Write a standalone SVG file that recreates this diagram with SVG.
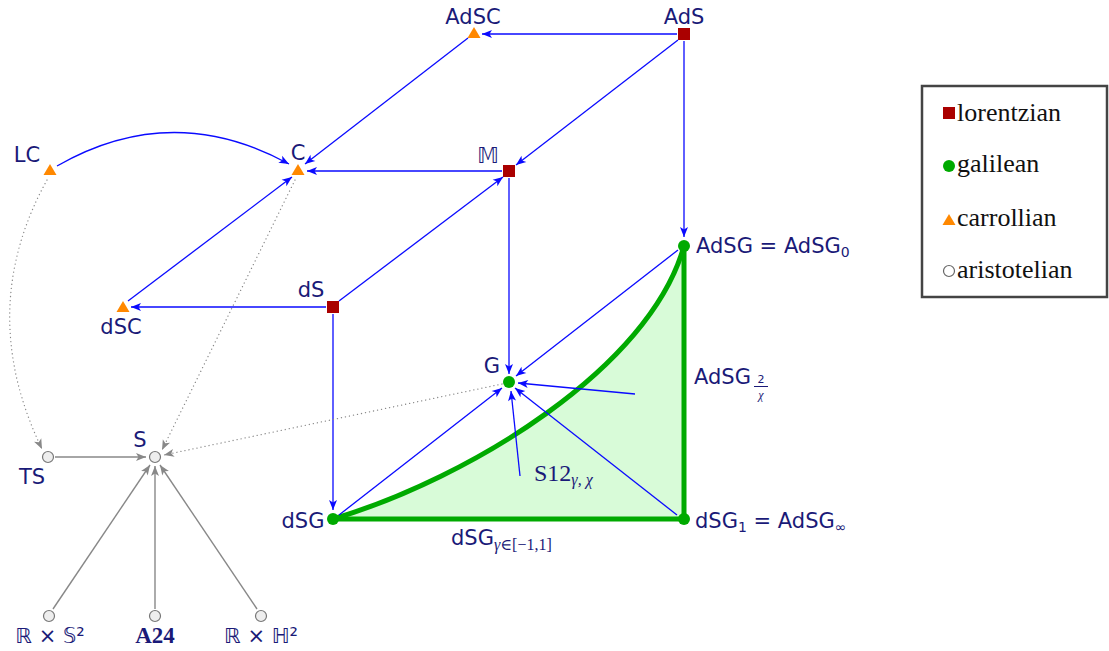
<svg xmlns="http://www.w3.org/2000/svg" width="1109" height="651" viewBox="0 0 1109 651">
<style>
.lbl{font-family:"DejaVu Sans","Liberation Sans",sans-serif;font-size:21px;fill:#1a1a78}
.sub{font-size:14px}
.ser{font-family:"Liberation Serif","DejaVu Serif",serif;fill:#1a1a78}
.e{fill:none;stroke:#0a0aff;stroke-width:1.3;marker-end:url(#ab)}
.g{fill:none;stroke:#888;stroke-width:1.4;marker-end:url(#ag)}
.d{fill:none;stroke:#888;stroke-width:1.3;stroke-dasharray:0.1 4;stroke-linecap:round;marker-end:url(#ag)}
.lor{fill:#aa0000}
.gal{fill:#00aa00}
.car{fill:#ff8800}
.ari{fill:#eeeeee;stroke:#777;stroke-width:1.2}
.gr{fill:none;stroke:#00aa00;stroke-width:5;stroke-linecap:round}
.leg{font-family:"Liberation Serif","DejaVu Serif",serif;font-size:26px;fill:#111}
</style>
<defs>
<marker id="ab" markerUnits="userSpaceOnUse" markerWidth="12" markerHeight="10" refX="10" refY="5" orient="auto" overflow="visible"><path d="M0,1 L10,5 L0,9 L2.5,5 Z" fill="#0a0aff"/></marker>
<marker id="ag" markerUnits="userSpaceOnUse" markerWidth="12" markerHeight="10" refX="10" refY="5" orient="auto" overflow="visible"><path d="M0,1 L10,5 L0,9 L2.5,5 Z" fill="#888"/></marker>
</defs>
<g id="region">
<path d="M333,519 C470,478 650,368 684,246 L684,519 Z" fill="#d8fbd8"/>
<path class="gr" d="M333,519 C470,478 650,368 684,246"/>
<path class="gr" d="M684,246 L684,519 L333,519"/>
</g>
<g id="connectors">
<path class="e" d="M677,34 L482,34"/>
<path class="e" d="M678,40 L516,165"/>
<path class="e" d="M684,41 L684,237"/>
<path class="e" d="M468,38 L305,164"/>
<path class="e" d="M502,171 L307,171"/>
<path class="e" d="M509,178 L509,374"/>
<path class="e" d="M57,166 Q172,100 289,164"/>
<path class="e" d="M339,301 L503,177"/>
<path class="e" d="M326,307 L131,307"/>
<path class="e" d="M128,301 L292,177"/>
<path class="e" d="M333,314 L333,510"/>
<path class="e" d="M678,250 L516,376"/>
<path class="e" d="M339,515 L502,388"/>
<path class="e" d="M677,515 L515,388"/>
<path class="e" d="M635,394 L518,383"/>
<path class="e" d="M520,476 L511,391"/>
<path class="d" d="M47,180 Q-25,310 42,449"/>
<path class="d" d="M295,180 L162,450"/>
<path class="d" d="M502,384 L164,455"/>
<path class="g" d="M55,457 L146,457"/>
<path class="g" d="M53,609 L150,465"/>
<path class="g" d="M155,609 L155,466"/>
<path class="g" d="M257,609 L160,465"/>
</g>
<g id="AdSC"><polygon class="car" points="474,27 480.5,38 467.5,38"/><text class="lbl" x="473" y="24" text-anchor="middle">AdSC</text></g>
<g id="AdS"><rect class="lor" x="678" y="28" width="12" height="12"/><text class="lbl" x="684" y="24" text-anchor="middle">AdS</text></g>
<g id="LC"><polygon class="car" points="50,164 56.5,175 43.5,175"/><text class="lbl" x="27" y="162" text-anchor="middle">LC</text></g>
<g id="C"><polygon class="car" points="298,164 304.5,175 291.5,175"/><text class="lbl" x="298" y="160" text-anchor="middle">C</text></g>
<g id="M"><rect class="lor" x="503" y="165" width="12" height="12"/><text class="lbl" x="488" y="163" text-anchor="middle" style="font-family:'DejaVu Sans',sans-serif">𝕄</text></g>
<g id="dS"><rect class="lor" x="327" y="301" width="12" height="12"/><text class="lbl" x="311" y="297" text-anchor="middle">dS</text></g>
<g id="dSC"><polygon class="car" points="123,301 129.5,312 116.5,312"/><text class="lbl" x="121" y="334" text-anchor="middle">dSC</text></g>
<g id="G"><circle class="gal" cx="509" cy="382" r="6"/><text class="lbl" x="492" y="373" text-anchor="middle">G</text></g>
<g id="AdSG"><circle class="gal" cx="684" cy="246" r="6"/><text class="lbl" x="696" y="253">AdSG = AdSG<tspan class="sub" dy="4">0</tspan></text></g>
<g id="AdSG2x"><text class="lbl" x="694" y="384">AdSG</text><text class="lbl" x="761" y="383" text-anchor="middle" style="font-size:11px">2</text><line x1="754" y1="386.5" x2="768" y2="386.5" stroke="#1a1a78" stroke-width="1"/><text class="ser" x="761" y="399" text-anchor="middle" style="font-size:12px;font-style:italic">χ</text></g>
<g id="dSG"><circle class="gal" cx="333" cy="519" r="6"/><text class="lbl" x="303" y="528" text-anchor="middle">dSG</text></g>
<g id="dSG1"><circle class="gal" cx="684" cy="519" r="6"/><text class="lbl" x="695" y="528">dSG<tspan class="sub" dy="4">1</tspan><tspan dy="-4"> = AdSG</tspan><tspan class="sub" dy="4">∞</tspan></text></g>
<g id="dSGgamma"><text class="lbl" x="451" y="545">dSG<tspan class="ser" dy="5" style="font-size:16px;font-style:italic">γ</tspan><tspan class="ser" dy="0" style="font-size:16px">∈[−1,1]</tspan></text></g>
<g id="S12"><text class="ser" x="534" y="481" style="font-size:24px">S12<tspan dy="4" style="font-size:16px;font-style:italic">γ, χ</tspan></text></g>
<g id="S"><circle class="ari" cx="155" cy="457" r="5.5"/><text class="lbl" x="140" y="447" text-anchor="middle">S</text></g>
<g id="TS"><circle class="ari" cx="48" cy="457" r="5.5"/><text class="lbl" x="32" y="484" text-anchor="middle">TS</text></g>
<g id="RS2"><circle class="ari" cx="49" cy="616" r="5.5"/><text class="lbl" x="50" y="643" text-anchor="middle" style="font-family:'DejaVu Sans',sans-serif">ℝ × 𝕊²</text></g>
<g id="A24"><circle class="ari" cx="155" cy="616" r="5.5"/><text class="ser" x="155" y="643" text-anchor="middle" style="font-size:23px;font-weight:bold">A24</text></g>
<g id="RH2"><circle class="ari" cx="261" cy="616" r="5.5"/><text class="lbl" x="261" y="643" text-anchor="middle" style="font-family:'DejaVu Sans',sans-serif">ℝ × ℍ²</text></g>
<g id="legend">
<rect x="922" y="86" width="185" height="211" fill="#fff" stroke="#444" stroke-width="2.5"/>
<rect class="lor" x="943" y="107" width="12" height="12"/><text class="leg" x="957" y="121">lorentzian</text>
<circle class="gal" cx="949" cy="166" r="6"/><text class="leg" x="957" y="172">galilean</text>
<polygon class="car" points="949,214 955.5,225 942.5,225"/><text class="leg" x="957" y="226">carrollian</text>
<circle cx="949" cy="271" r="5.5" fill="#fff" stroke="#666" stroke-width="1.2"/><text class="leg" x="957" y="278">aristotelian</text>
</g>
</svg>
